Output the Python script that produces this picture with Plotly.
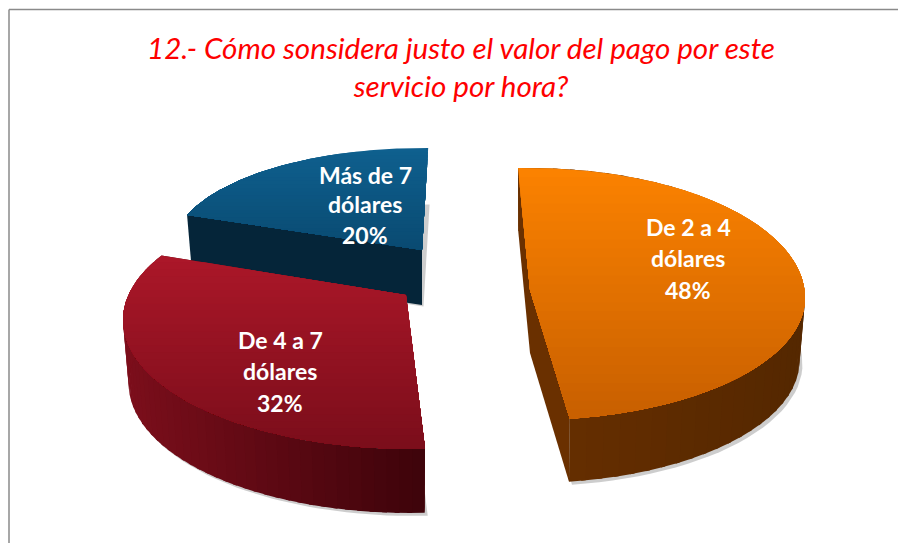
import numpy as np
import plotly.graph_objects as go

# ---- data ----
categories = ["De 2 a 4 dólares", "De 4 a 7 dólares", "Más de 7 dólares"]
values = [48, 32, 20]
title_lines = ["12.- Cómo sonsidera justo el valor del pago por este", "servicio por hora?"]
label_lines = [["De 2 a 4", "dólares"], ["De 4 a 7", "dólares"], ["Más de 7", "dólares"]]

# ---- projected geometry of the exploded 3-D pie (pixel-scaled axes) ----
styles = {
    "Más de 7 dólares": dict(apex=(422, 250), rim=(422, 250), rx=250, ry_back=102, ry_front=102, t0=290, k=0.992,
                             depth=55, top=("#0f608f", "#0a4b72"), wall=("#06283d", "#05283e"), chord="#052539",
                             rim_wall=False, far_chord=False, shadow=1.5, label=(365, [175, 204, 235])),
    "De 4 a 7 dólares": dict(apex=(406, 295), rim=(410, 320), rx=287, ry_back=129, ry_front=129, t0=177, k=1.068,
                             depth=64, top=("#ab1729", "#7c0e1b"), wall=("#3f040b", "#7d0f1c"), chord="#5a0810",
                             rim_wall=True, far_chord=True, shadow=3, label=(280, [340, 371, 403])),
    "De 2 a 4 dólares": dict(apex=(530, 290), rim=(530, 298), rx=275, ry_back=130, ry_front=122, t0=-2.5, k=1.008,
                             depth=63, top=("#fb8200", "#c96000"), wall=("#552800", "#6a3000"), chord="#6a3000",
                             rim_wall=True, far_chord=True, shadow=3, label=(688, [227, 258, 290])),
}
draw_order = ["Más de 7 dólares", "De 4 a 7 dólares", "De 2 a 4 dólares"]


def hex2rgb(h):
    return np.array([int(h[i:i + 2], 16) for i in (1, 3, 5)], float)


def mix(a, b, f):
    c = hex2rgb(a) * (1 - f) + hex2rgb(b) * f
    return "rgb(%d,%d,%d)" % tuple(c)


def rim(s, t, scale=1.0, drop=0.0):
    r = np.radians(t)
    c = np.cos(r)
    ry = np.where(c > 0, s["ry_back"], s["ry_front"])
    return s["rim"][0] + scale * s["rx"] * np.sin(r), s["rim"][1] - ry * c + drop


def clip_below(px, py, y0):
    out = []
    n = len(px)
    for i in range(n):
        a = (px[i], py[i])
        b = (px[(i + 1) % n], py[(i + 1) % n])
        ina, inb = a[1] >= y0, b[1] >= y0
        if ina:
            out.append(a)
        if ina != inb:
            f = (y0 - a[1]) / (b[1] - a[1])
            out.append((a[0] + f * (b[0] - a[0]), y0))
    return [p[0] for p in out], [p[1] for p in out]


fig = go.Figure()


def poly(x, y, color, name):
    fig.add_trace(go.Scatter(x=list(x), y=list(y), mode="lines", fill="toself", fillcolor=color,
                             line=dict(width=0, color=color), hoverinfo="skip", name=name, showlegend=False))


for cat in draw_order:
    s = styles[cat]
    v = values[categories.index(cat)]
    t1 = s["t0"] + v * 3.6 * s["k"]
    d = s["depth"]
    ax, ay = s["apex"]

    # soft shadow
    ts = np.linspace(s["t0"], t1, 60)
    xb, yb = rim(s, ts, 0.98, d)
    off = s["shadow"]
    sx = list(xb + off) + [ax + off]
    sy = list(yb + off) + [ay + d + off]
    poly(sx, sy, "rgba(90,90,90,0.30)", cat)

    # chord walls
    xs, ys = rim(s, np.array([s["t0"], t1]))
    xd, yd = rim(s, np.array([s["t0"], t1]), 0.98, d)
    poly([xs[0], ax, ax, xd[0]], [ys[0], ay, ay + d, yd[0]], s["chord"], cat)
    if s["far_chord"]:
        poly([ax, xs[1], xd[1], ax], [ay, ys[1], yd[1], ay + d], s["chord"], cat)

    # outer wall strips
    if s["rim_wall"]:
        n = 48
        edges = np.linspace(s["t0"], t1, n + 1)
        rx_all = rim(s, edges)[0]
        lo, hi = rx_all.min(), rx_all.max()
        for i in range(n):
            ta = np.array([edges[i], min(edges[i + 1] + 1.0, t1)])
            xa, ya = rim(s, ta)
            xc, yc = rim(s, ta, 0.98, d)
            px = [xa[0], xa[1], xc[1], xc[0]]
            py = [ya[0], ya[1], yc[1], yc[0]]
            f = 1 - (rx_all[i] - lo) / (hi - lo)
            poly(px, py, mix(s["wall"][0], s["wall"][1], f), cat)

    # top face, vertical gradient painted as stacked half-plane clips
    ts = np.linspace(s["t0"], t1, 160)
    tx, ty = rim(s, ts)
    fx = list(tx) + [ax]
    fy = list(ty) + [ay]
    ymin, ymax = min(fy), max(fy)
    bands = 28
    for k in range(bands):
        y_k = ymin + (ymax - ymin) * k / bands
        cx, cy = clip_below(fx, fy, y_k)
        if len(cx) >= 3:
            poly(cx, cy, mix(s["top"][0], s["top"][1], k / (bands - 1)), cat)

# ---- labels ----
annotations = []
for cat, lines, v in zip(categories, label_lines, values):
    lx, lys = styles[cat]["label"]
    for txt, ly in zip(lines + [f"{v}%"], lys):
        annotations.append(dict(x=lx, y=ly, xref="x", yref="y", text=txt, showarrow=False,
                                font=dict(family="Lato", size=23, color="white", weight="bold"),
                                xanchor="center", yanchor="middle"))

fig.update_layout(
    width=898, height=543, margin=dict(l=0, r=0, t=0, b=0),
    paper_bgcolor="white", plot_bgcolor="white", showlegend=False,
    title=dict(text="<i>" + "<br>".join(title_lines) + "</i>", x=461 / 898, xanchor="center",
               y=1 - 59 / 543, yanchor="middle", font=dict(family="Lato", size=29.6, color="#fe0000")),
    xaxis=dict(range=[0, 898], visible=False, fixedrange=True),
    yaxis=dict(range=[543, 0], visible=False, fixedrange=True),
    annotations=annotations,
    shapes=[
        dict(type="line", x0=9, x1=9, y0=9.5, y1=543, xref="x", yref="y", line=dict(color="#8a8a8a", width=1.5)),
        dict(type="line", x0=9, x1=898, y0=9.5, y1=9.5, xref="x", yref="y", line=dict(color="#8a8a8a", width=1.5)),
    ],
)
fig.write_html("out.html", default_width="898px", default_height="543px",
               config={"displayModeBar": False},
               post_script="document.body.style.margin='0';document.body.style.overflow='hidden';")
